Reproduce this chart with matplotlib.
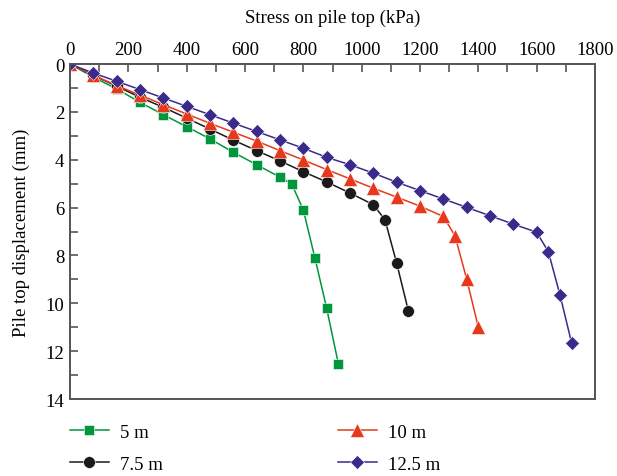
import matplotlib.pyplot as plt
from matplotlib.ticker import MultipleLocator

plt.rcParams['font.family'] = ['Liberation Serif', 'DejaVu Serif']

# Stress on pile top (kPa) and pile top displacement (mm) for each pile length
x_5 = [0, 80, 160, 240, 320, 400, 480, 560, 640, 720, 760, 800, 840, 880, 920]
y_5 = [0, 0.55, 1.04, 1.60, 2.12, 2.62, 3.13, 3.69, 4.21, 4.73, 5.01, 6.10, 8.12, 10.21, 12.52]

x_75 = [0, 80, 160, 240, 320, 400, 480, 560, 640, 720, 800, 880, 960, 1040, 1080, 1120, 1160]
y_75 = [0, 0.47, 0.93, 1.39, 1.81, 2.26, 2.72, 3.18, 3.62, 4.05, 4.50, 4.93, 5.39, 5.88, 6.51, 8.32, 10.31]

x_10 = [0, 80, 160, 240, 320, 400, 480, 560, 640, 720, 800, 880, 960, 1040, 1120, 1200, 1280,
        1320, 1360, 1400]
y_10 = [0, 0.47, 0.90, 1.30, 1.70, 2.09, 2.48, 2.85, 3.22, 3.62, 4.01, 4.41, 4.80, 5.19, 5.56,
        5.94, 6.37, 7.18, 8.98, 11.0]

x_125 = [0, 80, 160, 240, 320, 400, 480, 560, 640, 720, 800, 880, 960, 1040, 1120, 1200, 1280,
         1360, 1440, 1520, 1600, 1640, 1680, 1720]
y_125 = [0, 0.38, 0.72, 1.07, 1.42, 1.77, 2.12, 2.47, 2.82, 3.17, 3.52, 3.90, 4.21, 4.56, 4.94,
         5.29, 5.64, 5.99, 6.34, 6.69, 7.03, 7.84, 9.65, 11.66]

fig = plt.figure(figsize=(6.17, 4.77), dpi=100)
ax = fig.add_axes([0.1135, 0.1614, 0.8508, 0.7023])

ax.plot(x_5, y_5, color='#00963c', marker='s', markersize=7.5, lw=1.1,
        mec='white', mew=0.4, label='5 m')
ax.plot(x_75, y_75, color='#1a1a1a', marker='o', markersize=8.5, lw=1.1,
        mec='white', mew=0.4, label='7.5 m')
ax.plot(x_10, y_10, color='#e8381c', marker='^', markersize=9.5, lw=1.1,
        mec='white', mew=0.4, label='10 m')
ax.plot(x_125, y_125, color='#3b2a8a', marker='D', markersize=7.5, lw=1.1,
        mec='white', mew=0.4, label='12.5 m')

ax.set_xlim(0, 1800)
ax.set_ylim(14, 0)
ax.xaxis.set_major_locator(MultipleLocator(200))
ax.xaxis.set_minor_locator(MultipleLocator(100))
ax.yaxis.set_major_locator(MultipleLocator(2))
ax.yaxis.set_minor_locator(MultipleLocator(1))

ax.xaxis.tick_top()
ax.xaxis.set_label_position('top')
ax.tick_params(which='both', direction='in', length=6, width=1.2, color='#555555',
               labelsize=13.5, top=True, bottom=False, left=True, right=False, pad=4)
ax.set_xlabel('Stress on pile top (kPa)', fontsize=13.5, labelpad=14)
ax.set_ylabel('Pile top displacement (mm)', fontsize=13.5, labelpad=11)

for s in ax.spines.values():
    s.set_color('#555555')
    s.set_linewidth(1.4)

ax.legend(loc='upper left', bbox_to_anchor=(0.113, 0.11), bbox_transform=fig.transFigure,
          ncol=2, frameon=False, fontsize=13.5, handlelength=2.1, handletextpad=0.6,
          columnspacing=9.3, labelspacing=0.8, borderaxespad=0, borderpad=0)

fig.savefig('out.png', dpi=100)
